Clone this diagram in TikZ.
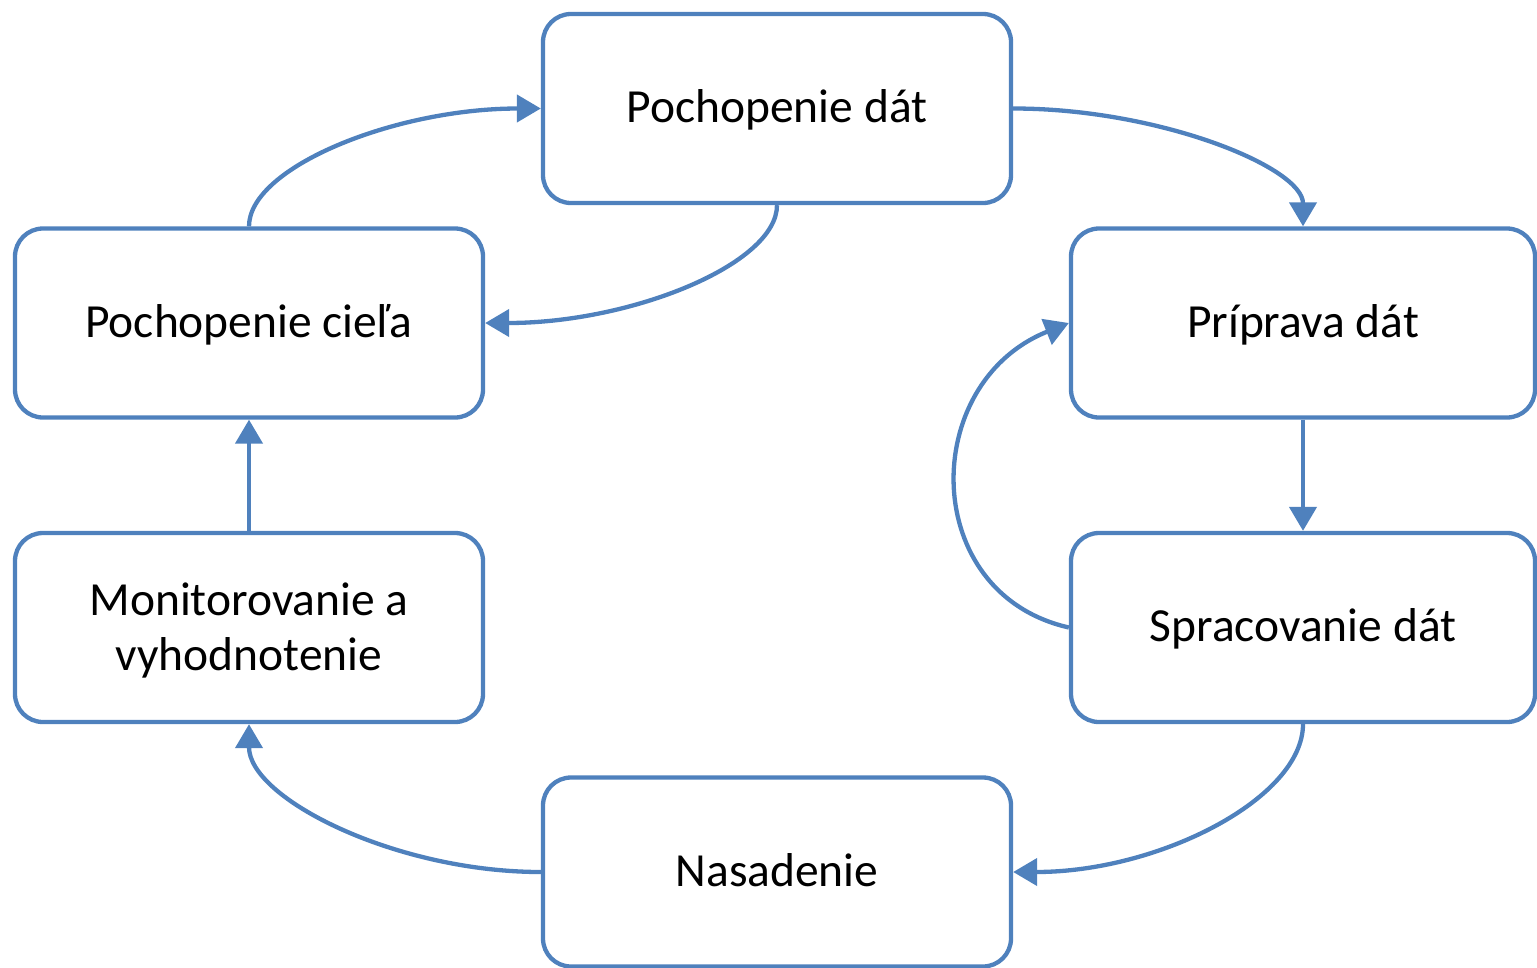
\documentclass[tikz,border=0pt]{standalone}
\usepackage{fontspec}
\setmainfont{Carlito}
\usetikzlibrary{arrows.meta}
\definecolor{flowblue}{HTML}{4F81BD}
\begin{document}
\begin{tikzpicture}[x=1pt,y=-1pt,
  stage/.style={draw=flowblue, line width=4.3pt, rounded corners=28pt,
    minimum width=468pt, minimum height=189pt, inner sep=0pt,
    align=center, text=black, font=\fontsize{47.5}{55}\selectfont,
    text height=38pt, text depth=10pt},
  link/.style={draw=flowblue, line width=4.3pt,
    -{Triangle[length=24pt,width=27pt]}}]
\useasboundingbox (0,0) rectangle (1537,967);

% process stages
\node[stage] (pd) at (777,108.5) {Pochopenie dát};
\node[stage] (cg) at (249,323) {Pochopenie cieľa};
\node[stage, minimum width=464pt] (pp) at (1303,323) {Príprava dát};
\node[stage, minimum width=464pt] (sd) at (1303,627.5) {Spracovanie dát};
\node[stage, text height=95pt] (mv) at (249,627.5) {Monitorovanie a\\vyhodnotenie};
\node[stage] (ns) at (777,872) {Nasadenie};

% transitions between stages
\draw[link] (cg.north) .. controls +(0,-59) and +(-146,0) .. (pd.west);
\draw[link] (pd.south) .. controls +(0,59) and +(146,0) .. (cg.east);
\draw[link] (pd.east) .. controls +(146,0) and +(0,-59) .. (pp.north);
\draw[link] (pp.south) -- (sd.north);
\draw[link] (sd.west) .. controls +(-150,-34) and +(-150,60) .. (pp.west);
\draw[link] (sd.south) .. controls +(0,74) and +(146,0) .. (ns.east);
\draw[link] (ns.west) .. controls +(-146,0) and +(0,74) .. (mv.south);
\draw[link] (mv.north) -- (cg.south);
\end{tikzpicture}
\end{document}
